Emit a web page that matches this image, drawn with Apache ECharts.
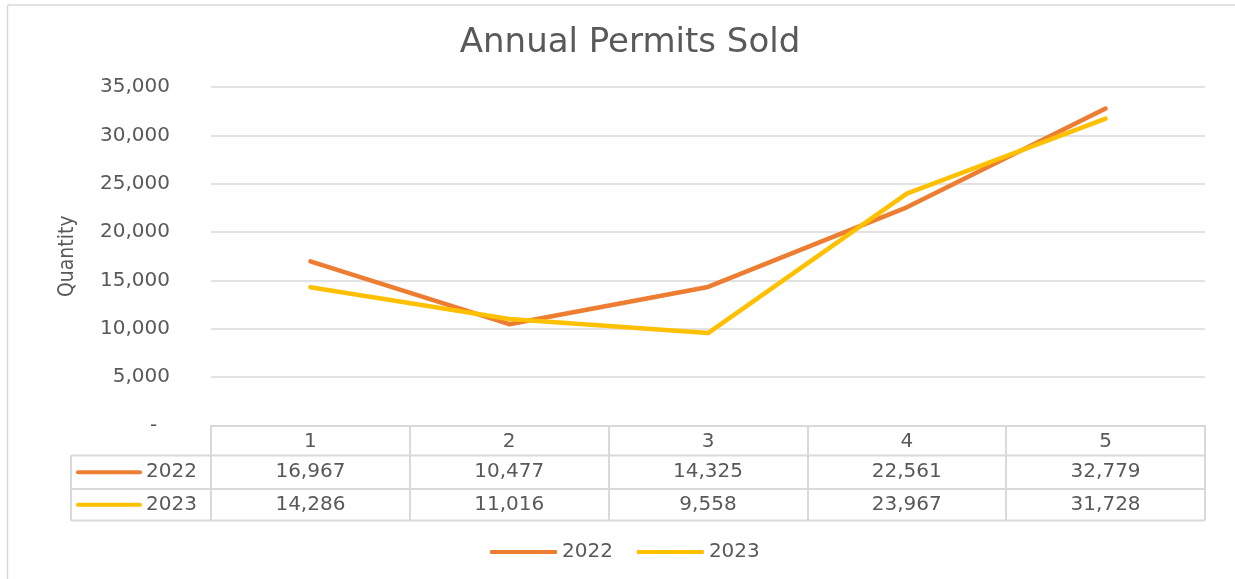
<!DOCTYPE html>
<html>
<head>
<meta charset="utf-8">
<title>Annual Permits Sold</title>
<script src="https://cdn.jsdelivr.net/npm/echarts@6/dist/echarts.min.js"></script>
<style>
  html, body { margin: 0; padding: 0; background: #fff; overflow: hidden; }
  #chart { width: 1235px; height: 579px; }
</style>
</head>
<body>
<div id="chart"></div>
<script>
const categories = ['1', '2', '3', '4', '5'];
const seriesNames = ['2022', '2023'];
const values2022 = [16967, 10477, 14325, 22561, 32779];
const values2023 = [14286, 11016, 9558, 23967, 31728];
const seriesValues = [values2022, values2023];
const seriesColors = ['#ED7D31', '#FFC000'];
const yMax = 35000;
const yStep = 5000;

const textColor = '#595959';
const lineGray = '#d9d9d9';
const font = 'DejaVu Sans';

const fmt = v => v.toLocaleString('en-US');

const chart = echarts.init(document.getElementById('chart'));

// grid / data table geometry
const gridLeft = 211, gridRight = 1205, gridTop = 87, gridBottom = 425.5;
const tableLeft = 71;
const rowLines = [455.5, 489, 520.5];

chart.setOption({
  animation: false,
  title: {
    text: 'Annual Permits Sold',
    left: 625,
    top: 21,
    textAlign: 'center',
    textStyle: { fontFamily: font, fontSize: 34, fontWeight: 'normal', color: textColor }
  },
  legend: {
    data: seriesNames,
    left: 490,
    top: 542,
    padding: 0,
    icon: 'roundRect',
    itemWidth: 67,
    itemHeight: 4,
    itemGap: 24,
    textStyle: { fontFamily: font, fontSize: 20, color: textColor }
  },
  grid: { left: gridLeft, right: 1235 - gridRight, top: gridTop, bottom: 579 - gridBottom },
  xAxis: {
    type: 'category',
    data: categories,
    boundaryGap: true,
    axisLine: { show: true, lineStyle: { color: lineGray, width: 2 } },
    axisTick: { show: true, length: rowLines[2] - gridBottom, lineStyle: { color: lineGray, width: 2 } },
    axisLabel: { fontFamily: font, fontSize: 20, color: textColor, margin: 6, lineHeight: 20 }
  },
  yAxis: {
    type: 'value',
    min: 0,
    max: yMax,
    interval: yStep,
    name: 'Quantity',
    nameLocation: 'middle',
    nameGap: 133,
    nameTextStyle: { fontFamily: 'DejaVu Sans Condensed', fontSize: 21, color: textColor },
    axisLine: { show: false },
    axisTick: { show: false },
    axisLabel: {
      fontFamily: font, fontSize: 20, color: textColor, margin: 41,
      formatter: v => v === 0 ? '-  ' : fmt(v)
    },
    splitLine: { lineStyle: { color: lineGray, width: 1.5 } }
  },
  series: seriesNames.map((name, i) => ({
    name: name,
    type: 'line',
    data: seriesValues[i],
    symbol: 'none',
    color: seriesColors[i],
    lineStyle: { width: 4.5, color: seriesColors[i], cap: 'round', join: 'round' }
  }))
});

const elements = [];
// chart area border: only the left and top edges fall inside the picture
elements.push({
  type: 'line', silent: true,
  shape: { x1: 7.5, y1: 5, x2: 7.5, y2: 579 },
  style: { stroke: lineGray, lineWidth: 1.5 }
});
elements.push({
  type: 'line', silent: true,
  shape: { x1: 7.5, y1: 5, x2: 1235, y2: 5 },
  style: { stroke: lineGray, lineWidth: 1.5 }
});

// data table below the plot
rowLines.forEach(y => {
  elements.push({
    type: 'line', silent: true,
    shape: { x1: tableLeft, y1: y, x2: gridRight, y2: y },
    style: { stroke: lineGray, lineWidth: 2 }
  });
});
elements.push({
  type: 'line', silent: true,
  shape: { x1: tableLeft, y1: rowLines[0], x2: tableLeft, y2: rowLines[2] },
  style: { stroke: lineGray, lineWidth: 2 }
});

seriesNames.forEach((name, r) => {
  const yc = (rowLines[r] + rowLines[r + 1]) / 2;
  elements.push({
    type: 'line', silent: true,
    shape: { x1: 78, y1: yc, x2: 140, y2: yc },
    style: { stroke: seriesColors[r], lineWidth: 4, lineCap: 'round' }
  });
  elements.push({
    type: 'text', silent: true, x: 146, y: yc,
    style: { text: name, fontFamily: font, fontSize: 20, fill: textColor, align: 'left', verticalAlign: 'middle' }
  });
  categories.forEach((c, k) => {
    const xc = chart.convertToPixel({ xAxisIndex: 0 }, c);
    elements.push({
      type: 'text', silent: true, x: xc, y: yc,
      style: { text: fmt(seriesValues[r][k]), fontFamily: font, fontSize: 20, fill: textColor, align: 'center', verticalAlign: 'middle' }
    });
  });
});

chart.setOption({ graphic: { elements: elements } });
</script>
</body>
</html>
